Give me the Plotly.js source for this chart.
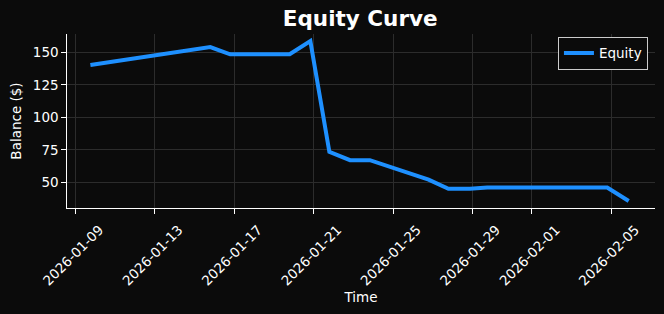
<!DOCTYPE html>
<html>
<head>
<meta charset="utf-8">
<script src="https://cdn.plot.ly/plotly-3.0.1.min.js"></script>
<style>
html,body{margin:0;padding:0;background:#0b0b0b;}
#chart{width:664px;height:314px;}
</style>
</head>
<body>
<div id="chart"></div>
<script>
const times = [
  "2026-01-09 18:00", "2026-01-15 19:00", "2026-01-16 19:00", "2026-01-19 19:00",
  "2026-01-20 20:00", "2026-01-21 19:00", "2026-01-22 20:00", "2026-01-23 20:00",
  "2026-01-26 19:00", "2026-01-27 19:00", "2026-01-28 21:00", "2026-01-29 18:00",
  "2026-02-04 19:00", "2026-02-05 21:00"
];
const balance = [140.2, 154.0, 148.5, 148.5, 158.6, 73.5, 67.0, 67.0, 52.0, 45.0, 45.0, 46.0, 46.0, 35.6];
const tickDates = ["2026-01-09","2026-01-13","2026-01-17","2026-01-21","2026-01-25","2026-01-29","2026-02-01","2026-02-05"];
const yTicks = [50, 75, 100, 125, 150];

const font = "DejaVu Sans, sans-serif";
const trace = {
  x: times, y: balance, type: "scatter", mode: "lines", name: "Equity",
  line: {color: "#1e90ff", width: 4}
};
const layout = {
  width: 664, height: 314,
  paper_bgcolor: "#0b0b0b", plot_bgcolor: "#0b0b0b",
  margin: {l: 66.5, r: 9.4, t: 34, b: 106},
  font: {family: font, color: "#ffffff", size: 13},
  title: {text: "<b>Equity Curve</b>", font: {family: font, size: 21.5, color: "#ffffff"},
          x: 0.5425, xanchor: "center", y: 0.94, yanchor: "middle"},
  showlegend: true,
  legend: {x: 0.988, xanchor: "right", y: 0.985, yanchor: "top",
           bgcolor: "#0b0b0b", bordercolor: "#cccccc", borderwidth: 1,
           font: {family: font, size: 13.5, color: "#ffffff"}},
  xaxis: {
    type: "date", range: ["2026-01-08 13:43", "2026-02-07 04:48"],
    tickmode: "array", tickvals: tickDates, ticktext: tickDates,
    tickangle: -45, ticks: "outside", ticklen: 4.5, tickwidth: 1, tickcolor: "#ffffff",
    ticklabelshift: 24, ticklabelstandoff: 3,
    showline: true, linecolor: "#ffffff", linewidth: 1.2,
    showgrid: true, gridcolor: "#2c2c2c", gridwidth: 1, zeroline: false,
    tickfont: {family: font, size: 13.5, color: "#ffffff"},
    title: {text: "Time", font: {family: font, size: 13.5, color: "#ffffff"}, standoff: 4},
    automargin: false
  },
  yaxis: {
    range: [30.2, 164.1], tickmode: "array", tickvals: yTicks,
    ticks: "outside", ticklen: 4.5, tickwidth: 1, tickcolor: "#ffffff",
    showline: true, linecolor: "#ffffff", linewidth: 1.2,
    showgrid: true, gridcolor: "#2c2c2c", gridwidth: 1, zeroline: false,
    tickfont: {family: font, size: 13.5, color: "#ffffff"},
    title: {text: "Balance ($)", font: {family: font, size: 13.5, color: "#ffffff"}, standoff: 8},
    automargin: false
  }
};
Plotly.newPlot("chart", [trace], layout, {staticPlot: true, displayModeBar: false});
</script>
</body>
</html>
